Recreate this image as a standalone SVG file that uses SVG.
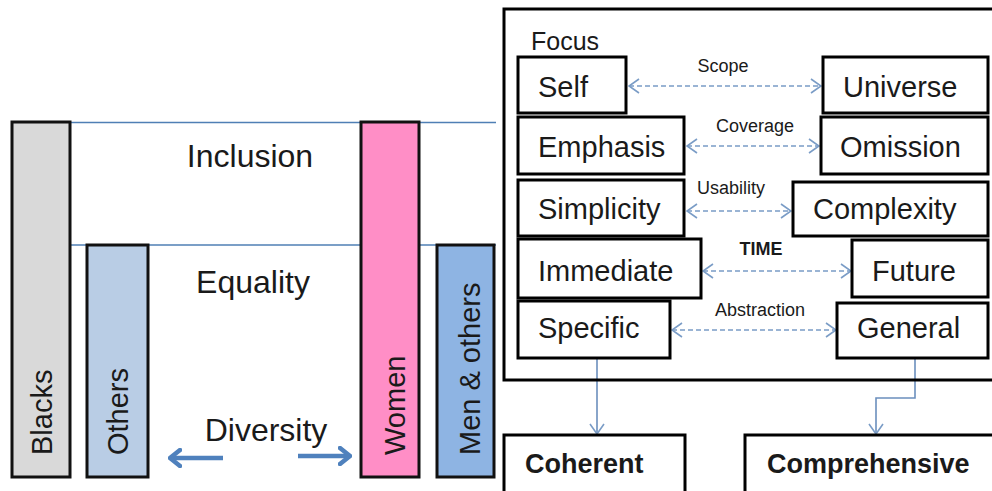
<svg xmlns="http://www.w3.org/2000/svg" width="992" height="491" viewBox="0 0 992 491">
<defs>
<style>
text{font-family:"Liberation Sans",Arial,sans-serif;fill:#1a1a1a}
.big{font-size:32px}
.bar{stroke:#111;stroke-width:3}
.vt{font-size:29px}
.box{fill:#fff;stroke:#000;stroke-width:3}
.bt{font-size:29px}
.lbl{font-size:18px;text-anchor:middle}
.guide{stroke:#4f7fb5;stroke-width:1.3;fill:none}
.dash{stroke:#7a9cc6;stroke-width:1.6;stroke-dasharray:5 3;fill:none;marker-start:url(#chev);marker-end:url(#chev)}
.solid{stroke:#6b8fbd;stroke-width:1.6;fill:none;marker-end:url(#chev)}
.thick{stroke:#4f81bd;stroke-width:4.5;fill:none;marker-end:url(#chevB)}
</style>
<marker id="chev" viewBox="0 0 12 16" refX="11" refY="8" markerWidth="12" markerHeight="16" markerUnits="userSpaceOnUse" orient="auto-start-reverse">
<path d="M1,1 L11,8 L1,15" fill="none" stroke="#7a9cc6" stroke-width="1.6"/>
</marker>
<marker id="chevB" viewBox="0 0 14 20" refX="12" refY="10" markerWidth="14" markerHeight="20" markerUnits="userSpaceOnUse" orient="auto">
<path d="M2,2 L12,10 L2,18" fill="none" stroke="#4f81bd" stroke-width="4.5" stroke-linecap="round" stroke-linejoin="round"/>
</marker>
</defs>
<rect width="992" height="491" fill="#fff"/>

<g id="connectors">
<line class="guide" x1="70" y1="122.5" x2="496" y2="122.5"/>
<line class="guide" x1="12" y1="245" x2="496" y2="245"/>
<line class="thick" x1="223" y1="458" x2="170" y2="458"/>
<line class="thick" x1="298" y1="456" x2="350" y2="456"/>
<line class="dash" x1="629" y1="86" x2="821" y2="86"/>
<line class="dash" x1="687" y1="146" x2="819" y2="146"/>
<line class="dash" x1="687" y1="211" x2="791" y2="211"/>
<line class="dash" x1="703" y1="271" x2="851" y2="271"/>
<line class="dash" x1="672" y1="330" x2="836" y2="330"/>
<path class="solid" d="M597,358 L597,434"/>
<path class="solid" d="M915,358 L915,398 L876,398 L876,434"/>
</g>

<g id="blacks"><rect class="bar" x="12" y="122" width="58" height="355" fill="#d9d9d9"/><text class="vt" transform="translate(52,455) rotate(-90)">Blacks</text></g>
<g id="others"><rect class="bar" x="87" y="245" width="61" height="232" fill="#b9cde5"/><text class="vt" transform="translate(128,455) rotate(-90)">Others</text></g>
<g id="women"><rect class="bar" x="361" y="122" width="58" height="355" fill="#ff8ec6"/><text class="vt" transform="translate(405,455) rotate(-90)">Women</text></g>
<g id="men-others"><rect class="bar" x="437" y="245" width="57" height="232" fill="#8eb4e3"/><text class="vt" transform="translate(480,455) rotate(-90)">Men &amp; others</text></g>
<g id="inclusion"><text class="big" x="250" y="167" text-anchor="middle">Inclusion</text></g>
<g id="equality"><text class="big" x="253" y="293" text-anchor="middle">Equality</text></g>
<g id="diversity"><text class="big" x="266" y="441" text-anchor="middle">Diversity</text></g>

<g id="focus"><rect x="504" y="9" width="500" height="371" fill="none" stroke="#000" stroke-width="3"/><text x="531" y="50" font-size="25">Focus</text></g>

<g id="self"><rect class="box" x="518" y="57" width="108" height="56"/><text class="bt" x="538" y="97">Self</text></g>
<g id="universe"><rect class="box" x="823" y="57" width="165" height="56"/><text class="bt" x="843" y="97">Universe</text></g>
<g id="emphasis"><rect class="box" x="518" y="117" width="166" height="57"/><text class="bt" x="538" y="157">Emphasis</text></g>
<g id="omission"><rect class="box" x="821" y="117" width="167" height="57"/><text class="bt" x="840" y="157">Omission</text></g>
<g id="simplicity"><rect class="box" x="518" y="180" width="166" height="56"/><text class="bt" x="538" y="219">Simplicity</text></g>
<g id="complexity"><rect class="box" x="793" y="182" width="195" height="54"/><text class="bt" x="813" y="219">Complexity</text></g>
<g id="immediate"><rect class="box" x="518" y="239" width="183" height="59"/><text class="bt" x="538" y="281">Immediate</text></g>
<g id="future"><rect class="box" x="852" y="240" width="136" height="57"/><text class="bt" x="872" y="281">Future</text></g>
<g id="specific"><rect class="box" x="518" y="301" width="152" height="57"/><text class="bt" x="538" y="338">Specific</text></g>
<g id="general"><rect class="box" x="837" y="303" width="151" height="55"/><text class="bt" x="857" y="338">General</text></g>

<g id="labels">
<text class="lbl" x="723" y="72">Scope</text>
<text class="lbl" x="755" y="132">Coverage</text>
<text class="lbl" x="731" y="194">Usability</text>
<text class="lbl" x="761" y="255" font-weight="bold" font-size="17">TIME</text>
<text class="lbl" x="760" y="316">Abstraction</text>
</g>

<g id="coherent"><rect class="box" x="504" y="435" width="181" height="70"/><text x="525" y="473" font-size="27" font-weight="bold">Coherent</text></g>
<g id="comprehensive"><rect class="box" x="745" y="435" width="260" height="70"/><text x="767" y="473" font-size="27" font-weight="bold">Comprehensive</text></g>
</svg>
